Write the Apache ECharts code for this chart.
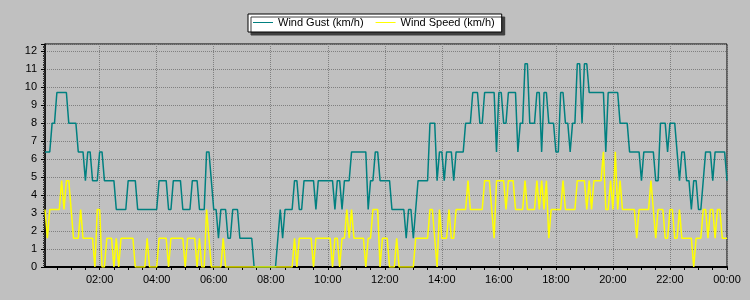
<!DOCTYPE html>
<html>
<head>
<meta charset="utf-8">
<script src="https://cdn.jsdelivr.net/npm/echarts@6/dist/echarts.min.js"></script>
<style>
  html, body { margin: 0; padding: 0; background: #c0c0c0; }
  #chart { width: 750px; height: 300px; }
</style>
</head>
<body>
<div id="chart"></div>
<script>
// Readings every 5 minutes, 00:05 .. 24:00 (288 points)
const windGust = [
  6.4,6.4,6.4,8.0,8.0,9.7,9.7,9.7,9.7,9.7,8.0,8.0,
  8.0,8.0,6.4,6.4,6.4,4.8,6.4,6.4,4.8,4.8,4.8,6.4,
  6.4,4.8,4.8,4.8,4.8,4.8,3.2,3.2,3.2,3.2,3.2,4.8,
  4.8,4.8,4.8,3.2,3.2,3.2,3.2,3.2,3.2,3.2,3.2,3.2,
  4.8,4.8,4.8,4.8,3.2,3.2,4.8,4.8,4.8,4.8,3.2,3.2,
  3.2,3.2,4.8,4.8,4.8,3.2,3.2,3.2,6.4,6.4,4.8,3.2,
  3.2,1.6,3.2,3.2,3.2,1.6,1.6,3.2,3.2,3.2,1.6,1.6,
  1.6,1.6,1.6,1.6,0,0,0,0,0,0,0,0,
  0,0,1.6,3.2,1.6,3.2,3.2,3.2,3.2,4.8,4.8,3.2,
  3.2,4.8,4.8,4.8,4.8,4.8,3.2,4.8,4.8,4.8,4.8,4.8,
  4.8,4.8,3.2,4.8,4.8,3.2,4.8,4.8,4.8,6.4,6.4,6.4,
  6.4,6.4,6.4,6.4,3.2,4.8,4.8,6.4,6.4,4.8,4.8,4.8,
  4.8,4.8,3.2,3.2,3.2,3.2,3.2,3.2,1.6,3.2,3.2,1.6,
  3.2,4.8,4.8,4.8,4.8,4.8,8.0,8.0,8.0,4.8,6.4,6.4,
  4.8,6.4,6.4,6.4,4.8,6.4,6.4,6.4,6.4,8.0,8.0,8.0,
  9.7,9.7,9.7,8.0,8.0,9.7,9.7,9.7,9.7,9.7,6.4,9.7,
  9.7,8.0,8.0,9.7,9.7,9.7,9.7,6.4,8.0,8.0,11.3,11.3,
  8.0,8.0,8.0,9.7,9.7,6.4,9.7,9.7,8.0,8.0,8.0,6.4,
  6.4,9.7,9.7,8.0,8.0,6.4,8.0,8.0,11.3,11.3,8.0,11.3,
  11.3,9.7,9.7,9.7,9.7,9.7,9.7,9.7,6.4,9.7,9.7,9.7,
  9.7,9.7,8.0,8.0,8.0,8.0,6.4,6.4,6.4,6.4,6.4,4.8,
  6.4,6.4,6.4,6.4,6.4,4.8,4.8,8.0,8.0,8.0,6.4,8.0,
  8.0,8.0,6.4,4.8,6.4,6.4,4.8,4.8,3.2,4.8,4.8,3.2,
  3.2,4.8,6.4,6.4,6.4,4.8,6.4,6.4,6.4,6.4,6.4,4.8
];
const windSpeed = [
  3.2,1.6,3.2,3.2,3.2,3.2,3.2,4.8,3.2,4.8,4.8,3.2,
  1.6,1.6,1.6,3.2,1.6,1.6,1.6,1.6,1.6,0,3.2,3.2,
  0,0,1.6,1.6,1.6,0,1.6,0,1.6,1.6,1.6,1.6,
  1.6,1.6,0,0,0,0,0,1.6,0,0,0,0,
  1.6,1.6,1.6,1.6,0,1.6,1.6,1.6,1.6,1.6,1.6,0,
  1.6,1.6,1.6,1.6,0,1.6,0,0,3.2,1.6,0,0,
  0,0,0,1.6,0,0,0,0,0,0,0,0,
  0,0,0,0,0,0,0,0,0,0,0,0,
  0,0,0,0,0,0,0,0,0,1.6,0,1.6,
  1.6,1.6,1.6,1.6,1.6,0,1.6,1.6,1.6,1.6,1.6,1.6,
  1.6,0,1.6,1.6,0,1.6,1.6,3.2,1.6,3.2,1.6,1.6,
  1.6,1.6,1.6,0,1.6,1.6,3.2,3.2,3.2,0,1.6,1.6,
  1.6,0,0,0,1.6,0,0,0,0,0,0,0,
  1.6,1.6,1.6,1.6,1.6,1.6,3.2,3.2,1.6,0,3.2,1.6,
  1.6,1.6,3.2,1.6,1.6,3.2,3.2,3.2,3.2,3.2,4.8,3.2,
  3.2,3.2,3.2,3.2,3.2,4.8,4.8,4.8,3.2,1.6,4.8,4.8,
  4.8,4.8,3.2,4.8,4.8,4.8,3.2,3.2,3.2,3.2,4.8,3.2,
  3.2,3.2,3.2,4.8,3.2,4.8,3.2,4.8,1.6,3.2,3.2,3.2,
  3.2,3.2,4.8,3.2,3.2,3.2,3.2,3.2,4.8,4.8,4.8,4.8,
  3.2,4.8,3.2,4.8,4.8,4.8,4.8,6.4,3.2,3.2,4.8,3.2,
  6.4,3.2,4.8,3.2,3.2,3.2,3.2,3.2,3.2,1.6,3.2,3.2,
  3.2,3.2,3.2,4.8,3.2,1.6,3.2,3.2,3.2,1.6,1.6,3.2,
  3.2,1.6,1.6,3.2,1.6,1.6,1.6,1.6,1.6,0,1.6,1.6,
  1.6,3.2,3.2,1.6,3.2,3.2,1.6,3.2,3.2,1.6,1.6,1.6
];
const seriesNames = ['Wind Gust (km/h)', 'Wind Speed (km/h)'];
const yTickLabels = [0,1,2,3,4,5,6,7,8,9,10,11,12];

// Category labels: reading times 00:05 .. 24:00 (shown as 00:00)
const minutes = windGust.map((_, i) => 5 + 5 * i);
const times = minutes.map(m => {
  const h = Math.floor(m / 60) % 24, mm = m % 60;
  return (h < 10 ? '0' : '') + h + ':' + (mm < 10 ? '0' : '') + mm;
});

const FONT = '"Liberation Sans", Arial, sans-serif';
const chart = echarts.init(document.getElementById('chart'), null, { renderer: 'canvas' });
chart.setOption({
  animation: false,
  backgroundColor: '#c0c0c0',
  legend: {
    left: 248, top: 14,
    itemWidth: 20, itemHeight: 1, itemGap: 12, icon: 'rect',
    padding: [3, 7, 4, 5],
    backgroundColor: '#ffffff', borderColor: '#000000', borderWidth: 1,
    shadowColor: '#404040', shadowOffsetX: 3, shadowOffsetY: 3, shadowBlur: 0.01,
    textStyle: { color: '#000', fontSize: 11, fontFamily: FONT },
    data: seriesNames
  },
  grid: {
    left: 45, right: 23, top: 44, bottom: 33,
    show: true, borderColor: '#000', borderWidth: 1, backgroundColor: 'transparent'
  },
  xAxis: {
    type: 'category', data: times, boundaryGap: false,
    axisLine: { lineStyle: { color: '#000', width: 2 } },
    axisTick: { interval: (i) => minutes[i] % 30 === 0, length: 3, lineStyle: { color: '#000' } },
    axisLabel: { interval: (i) => minutes[i] % 120 === 0, margin: 7, color: '#000', fontSize: 11, fontFamily: FONT },
    splitLine: { show: true, interval: (i) => minutes[i] % 120 === 0, lineStyle: { color: '#808080', type: [1, 1] } }
  },
  yAxis: {
    type: 'value', min: 0, max: 12.4, interval: 1,
    axisLine: { show: true, lineStyle: { color: '#000', width: 1.5 } },
    axisTick: { show: true, length: 4, lineStyle: { color: '#000' } },
    minorTick: { show: true, splitNumber: 10, length: 2, lineStyle: { color: '#333' } },
    axisLabel: {
      formatter: v => (yTickLabels.indexOf(v) >= 0 ? String(v) : ''),
      margin: 8, color: '#000', fontSize: 11, fontFamily: FONT
    },
    splitLine: { lineStyle: { color: '#808080', type: [1, 1] } }
  },
  series: [
    { name: seriesNames[0], type: 'line', data: windGust, symbol: 'none',
      color: '#008080', lineStyle: { color: '#008080', width: 1.5 } },
    { name: seriesNames[1], type: 'line', data: windSpeed, symbol: 'none',
      color: '#ffff00', lineStyle: { color: '#ffff00', width: 1.5 } }
  ]
});
</script>
</body>
</html>
